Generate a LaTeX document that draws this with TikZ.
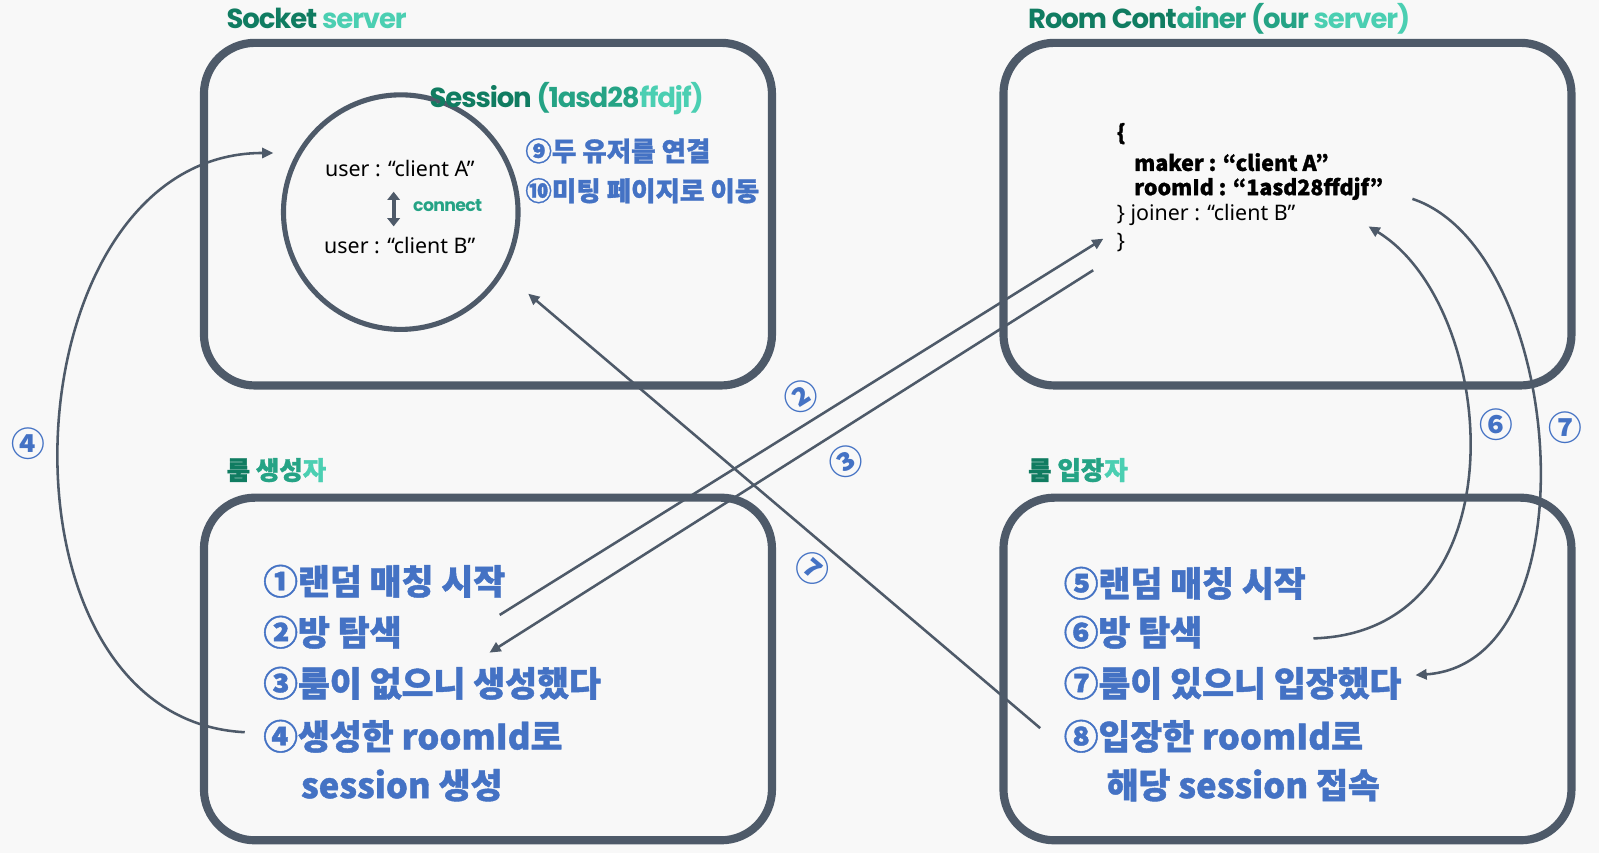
\documentclass[tikz,border=0pt]{standalone}
\usepackage{fontspec}
\setmainfont{Noto Sans CJK KR}[BoldFeatures={FakeBold=1.2}]
\newfontfamily\numf{Noto Sans CJK KR}
\newfontfamily\pop{Poppins}[LetterSpace=-4]
\newfontfamily\lat{Noto Sans}
\usetikzlibrary{arrows.meta}
\definecolor{slate}{HTML}{4E5A69}
\definecolor{kblue}{HTML}{4472C4}
\definecolor{gdark}{HTML}{107C61}
\definecolor{gmid}{HTML}{25A385}
\definecolor{glight}{HTML}{4BCFB2}
\definecolor{paper}{HTML}{F8F8F8}
\begin{document}
\begin{tikzpicture}[x=1pt,y=-1pt,
  box/.style={draw=slate,line width=8pt,rounded corners=50pt,minimum width=557pt,minimum height=336pt},
  flow/.style={draw=slate,line width=2.5pt,-{Triangle[length=11pt,width=10pt]}},
  dbl/.style={draw=slate,line width=4pt,{Triangle[length=8pt,width=12pt]}-{Triangle[length=8pt,width=12pt]}},
  title/.style={anchor=west,inner sep=0pt,font=\pop\bfseries\fontsize{27}{27}\selectfont},
  ktitle/.style={anchor=west,inner sep=0pt,font=\bfseries\fontsize{25}{25}\selectfont},
  krline/.style={anchor=west,inner sep=0pt,text=kblue,font=\bfseries\fontsize{34}{34}\selectfont},
  talk/.style={anchor=west,inner sep=0pt,text=kblue,font=\bfseries\fontsize{26}{26}\selectfont},
  numlabel/.style={text=kblue,inner sep=0pt,font=\numf\bfseries\fontsize{33}{33}\selectfont},
  usr/.style={inner sep=0pt,font=\lat\fontsize{21}{21}\selectfont},
  json/.style={anchor=west,inner sep=0pt,font=\lat\fontsize{21}{21}\selectfont},
  jsonb/.style={json,font=\bfseries\fontsize{21}{21}\selectfont}]
\fill[paper] (0,0) rectangle (1568,836.4);
\useasboundingbox (0,0) rectangle (1568,836.4);

% boxes
\node[box] (sock) at (478.5,210) {};
\node[box] (room) at (1262.5,210) {};
\node[box] (maker) at (478.5,656) {};
\node[box] (joiner) at (1262.5,656) {};

\node[title] (socktitle) at (222,18) {\textcolor{gdark}{Socket} \textcolor{glight}{server}};
\node[title] (roomtitle) at (1008,18) {\textcolor{gdark}{Room Cont}\textcolor{gmid}{ainer (our} \textcolor{glight}{server)}};
\node[ktitle] (makertitle) at (222,461) {\textcolor{gdark}{룸} \textcolor{gmid}{생성}\textcolor{glight}{자}};
\node[ktitle] (joinertitle) at (1008,461) {\textcolor{gdark}{룸} \textcolor{gmid}{입장}\textcolor{glight}{자}};

% session
\node[draw=slate,line width=5pt,circle,minimum size=230pt,inner sep=0pt] (sess) at (393,208) {};
\node[title] (sesstitle) at (421,97) {\textcolor{gdark}{Session} \textcolor{gmid}{(1asd28}\textcolor{glight}{ffdjf)}};
\node[usr] (ua) at (392,165) {user : “client A”};
\node[usr] (ub) at (392,241) {user : “client B”};
\coordinate (ca) at (386,188);
\coordinate (cb) at (386,222);
\draw[dbl] (ca) -- (cb);
\node[anchor=west,inner sep=0pt,text=gmid,font=\pop\bfseries\fontsize{17}{17}\selectfont] (conn) at (405,202) {connect};
\node[talk] (t9) at (515,148) {⑨두 유저를 연결};
\node[talk] (t10) at (515,187) {⑩미팅 페이지로 이동};

% room json
\node[jsonb] (j1) at (1095,131) {\{};
\node[jsonb] (j2) at (1112,159) {maker : “client A”};
\node[jsonb] (j3) at (1112,185) {roomId : “1asd28ffdjf”};
\node[json] (j4) at (1095,211) {\} joiner : “client B”};
\node[json] (j5) at (1095,238) {\}};

% steps
\node[krline] (s1) at (258,570) {①랜덤 매칭 시작};
\node[krline] (s2) at (258,620) {②방 탐색};
\node[krline] (s3) at (258,670) {③룸이 없으니 생성했다};
\node[krline] (s4) at (258,722) {④생성한 roomId로};
\node[krline] (s4b) at (295,770) {session 생성};
\node[krline] (s5) at (1043,572) {⑤랜덤 매칭 시작};
\node[krline] (s6) at (1043,620) {⑥방 탐색};
\node[krline] (s7) at (1043,670) {⑦룸이 있으니 입장했다};
\node[krline] (s8) at (1043,722) {⑧입장한 roomId로};
\node[krline] (s8b) at (1085,770) {해당 session 접속};

% arrows
\coordinate (a4s) at (240,718);
\coordinate (a4e) at (268,150);
\draw[flow] (a4s) .. controls (-20,705) and (5,150) .. (a4e);
\coordinate (a2s) at (490,603);
\coordinate (a2e) at (1082,234);
\draw[flow] (a2s) -- (a2e);
\coordinate (a3s) at (1072,265);
\coordinate (a3e) at (480,640);
\draw[flow] (a3s) -- (a3e);
\coordinate (a7s) at (1020,714);
\coordinate (a7e) at (518,288);
\draw[flow] (a7s) -- (a7e);
\coordinate (a6s) at (1288,626);
\coordinate (a6e) at (1342,222);
\draw[flow] (a6s) .. controls (1495,620) and (1470,300) .. (a6e);
\coordinate (b7s) at (1385,195);
\coordinate (b7e) at (1388,662);
\draw[flow] (b7s) .. controls (1535,245) and (1565,650) .. (b7e);

\node[numlabel] (n4) at (28,435) {④};
\node[numlabel,rotate=32] (n2) at (785,389) {②};
\node[numlabel,rotate=32] (n3) at (830,453) {③};
\node[numlabel,rotate=-40] (n7) at (797,557) {⑦};
\node[numlabel] (n6) at (1467,416) {⑥};
\node[numlabel] (n7b) at (1535,419) {⑦};
\end{tikzpicture}
\end{document}
